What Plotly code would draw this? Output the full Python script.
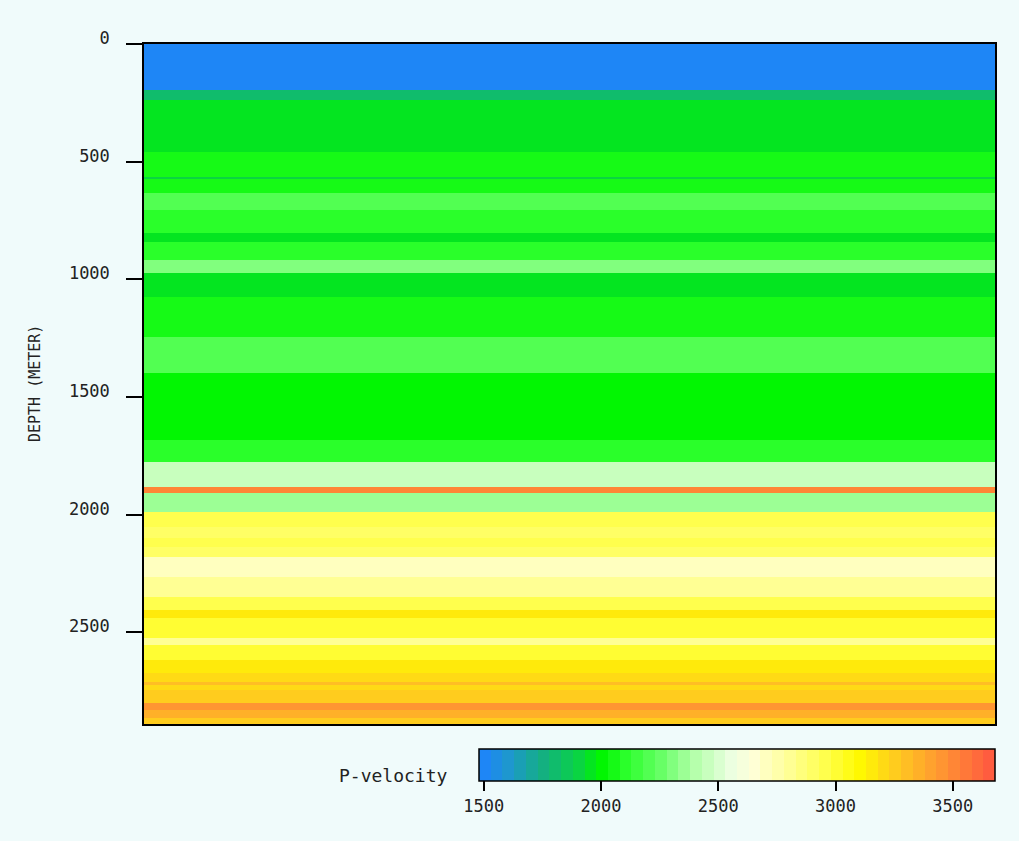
import plotly.graph_objects as go

# ---- data ----
layer_top = [0, 195, 238, 459, 565, 574, 633, 705, 803, 841, 918, 973, 1075, 1245,
             1398, 1513, 1683, 1777, 1883, 1908, 1989, 2053, 2099, 2138, 2180, 2265,
             2350, 2405, 2439, 2524, 2554, 2618, 2673, 2711, 2724, 2745, 2801, 2830, 2864]
model_bottom = 2890
velocity = [1500, 1800, 1950, 2030, 1900, 2050, 2180, 2100, 1930, 2100, 2300, 1950, 2050, 2200,
            1990, 2010, 2100, 2450, 3480, 2350, 2950, 2880, 2950, 2900, 2680, 2780,
            2950, 3150, 3020, 2780, 2990, 3130, 3200, 3300, 3200, 3270, 3450, 3330, 3270]
vmin, vmax = 1480, 3680
depth_ticks = [0, 500, 1000, 1500, 2000, 2500]
vel_ticks = [1500, 2000, 2500, 3000, 3500]

# ---- stepped colour scale ----
anchors = [(1480, (30, 130, 255)), (1600, (30, 150, 210)), (1750, (20, 175, 130)),
           (1900, (10, 210, 70)), (2000, (0, 245, 0)), (2100, (40, 255, 40)),
           (2250, (100, 255, 100)), (2400, (180, 255, 170)), (2550, (235, 255, 225)),
           (2650, (255, 255, 215)), (2800, (255, 255, 150)), (2950, (255, 255, 80)),
           (3100, (255, 250, 0)), (3250, (255, 205, 30)), (3450, (255, 150, 50)),
           (3680, (255, 85, 65))]


def interp(v):
    for (v0, c0), (v1, c1) in zip(anchors[:-1], anchors[1:]):
        if v0 <= v <= v1:
            t = (v - v0) / (v1 - v0)
            return tuple(int(round(a + (b - a) * t)) for a, b in zip(c0, c1))
    return anchors[-1][1] if v > anchors[-1][0] else anchors[0][1]


nb = 44
cs = []
for i in range(nb):
    v = vmin + (i + 0.5) * (vmax - vmin) / nb
    c = "rgb(%d,%d,%d)" % interp(v)
    cs.append([i / nb, c])
    cs.append([(i + 1) / nb, c])

z = [[v] for v in velocity]
y_edges = layer_top + [model_bottom]

FONT = "DejaVu Sans Mono"
TXT = "#222"

fig = go.Figure(go.Heatmap(
    z=z, x=[0, 1], y=y_edges, zmin=vmin, zmax=vmax, colorscale=cs,
    colorbar=dict(orientation="h", x=1.0, xanchor="right", len=516 / 851, lenmode="fraction",
                  y=-0.0368, yanchor="top", thickness=32, xpad=0, ypad=0,
                  outlinecolor="black", outlinewidth=1.5,
                  tickvals=vel_ticks, ticks="outside", ticklen=10, tickwidth=1.5, tickcolor="black",
                  tickfont=dict(family=FONT, size=17, color=TXT)),
    hoverinfo="skip"))

bg = "#f0fbfb"
fig.update_layout(
    width=1019, height=841, paper_bgcolor=bg, plot_bgcolor=bg,
    margin=dict(l=144, r=24, t=44, b=117),
    xaxis=dict(range=[0, 1], showticklabels=False, ticks="", showgrid=False, zeroline=False,
               showline=True, mirror=True, linecolor="black", linewidth=1.5),
    yaxis=dict(range=[model_bottom, 0], tickvals=depth_ticks, ticks="outside", ticklen=16,
               tickwidth=1.5, tickcolor="black", showgrid=False, zeroline=False,
               showline=True, mirror=True, linecolor="black", linewidth=1.5,
               ticklabelstandoff=13, ticklabelshift=6,
               tickfont=dict(family=FONT, size=17, color=TXT)),
    annotations=[
        dict(text="DEPTH (METER)", x=(35 - 144) / 851, y=0.5, xref="paper", yref="paper",
             xanchor="center", yanchor="middle",
             textangle=-90, showarrow=False, font=dict(family=FONT, size=15, color=TXT)),
        dict(text="P-velocity", x=(393 - 144) / 851, y=(724 - 775) / 680, xref="paper", yref="paper",
             xanchor="center", yanchor="middle",
             showarrow=False, font=dict(family=FONT, size=18, color=TXT)),
    ],
)
fig.write_html("out.html", config={"displayModeBar": False},
               post_script="document.body.style.margin='0';document.body.style.background='%s';" % bg)
